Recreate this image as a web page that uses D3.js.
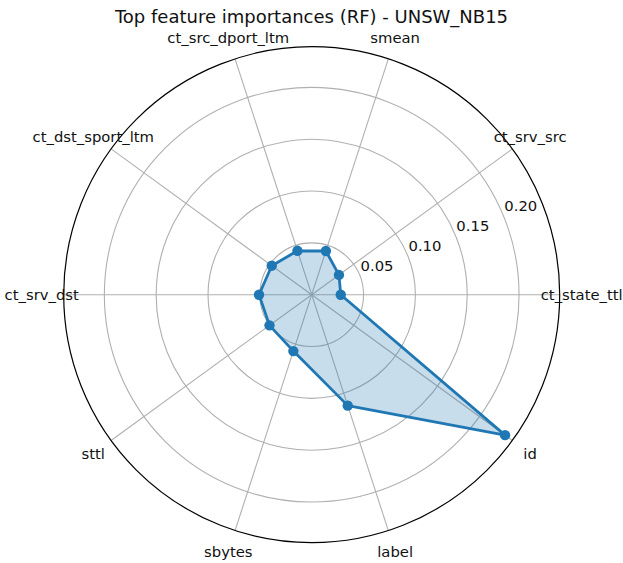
<!DOCTYPE html>
<html>
<head>
<meta charset="utf-8">
<script src="https://cdn.jsdelivr.net/npm/d3@7"></script>
<style>
  body { margin:0; background:#fff; }
  text { font-family: "DejaVu Sans", sans-serif; fill:#111; }
</style>
</head>
<body>
<div id="radar"></div>
<script>
// feature names go counter-clockwise from east, matplotlib style
const features = ["ct_state_ttl","ct_srv_src","smean","ct_src_dport_ltm","ct_dst_sport_ltm",
                  "ct_srv_dst","sttl","sbytes","label","id"];
const importances = [0.028, 0.0325, 0.0443, 0.0445, 0.0476, 0.0508, 0.0503, 0.0572, 0.1125, 0.2305];
const rTicks = [0.05, 0.10, 0.15, 0.20];
const rMax = 0.2392;

const W = 623, H = 563;
const cx = 311.7, cy = 294.7, R = 248;
const blue = "#1f77b4";

const svg = d3.select("#radar").append("svg").attr("width", W).attr("height", H);
const g = svg.append("g").attr("transform", `translate(${cx},${cy})`);

const r = d3.scaleLinear().domain([0, rMax]).range([0, R]);
// angle in degrees, counter-clockwise
const ang = d3.scaleLinear().domain([0, features.length]).range([0, 360]);
const px = (a, rr) => rr * Math.cos(a * Math.PI / 180);
const py = (a, rr) => -rr * Math.sin(a * Math.PI / 180);

// grid rings
g.selectAll("circle.ring").data(rTicks).enter().append("circle")
  .attr("class","ring").attr("r", d => r(d))
  .attr("fill","none").attr("stroke","#b0b0b0").attr("stroke-width",1.1);

// spokes
g.selectAll("line.spoke").data(features).enter().append("line")
  .attr("x1",0).attr("y1",0)
  .attr("x2",(d,i)=>px(ang(i), R)).attr("y2",(d,i)=>py(ang(i), R))
  .attr("stroke","#b0b0b0").attr("stroke-width",1.1);

// outer frame
g.append("circle").attr("r", R).attr("fill","none").attr("stroke","#000").attr("stroke-width",1.2);

// radial tick labels sit at 22.5 degrees
g.selectAll("text.rtick").data(rTicks).enter().append("text")
  .attr("class","rtick")
  .attr("x", d => px(22.5, r(d)) + 1)
  .attr("y", d => py(22.5, r(d)) - 4)
  .attr("font-size","14.8px")
  .text(d => d.toFixed(2));

// category labels
g.selectAll("text.cat").data(features).enter().append("text")
  .attr("class","cat")
  .attr("x",(d,i)=>px(ang(i), R + 22))
  .attr("y",(d,i)=>py(ang(i), R + 22))
  .attr("text-anchor","middle").attr("dominant-baseline","central")
  .attr("font-size","14.8px")
  .text(d => d);

const pts = importances.map((v,i)=>[px(ang(i), r(v)), py(ang(i), r(v))]);

g.append("path")
  .attr("d", d3.line()(pts) + "Z")
  .attr("fill", blue).attr("fill-opacity",0.25)
  .attr("stroke", blue).attr("stroke-width",2.8).attr("stroke-linejoin","round");

g.selectAll("circle.pt").data(pts).enter().append("circle")
  .attr("class","pt").attr("cx", d=>d[0]).attr("cy", d=>d[1]).attr("r",5.2)
  .attr("fill", blue);

svg.append("text").attr("x", 311.5).attr("y", 23)
  .attr("text-anchor","middle").attr("font-size","18px")
  .text("Top feature importances (RF) - UNSW_NB15");
</script>
</body>
</html>
